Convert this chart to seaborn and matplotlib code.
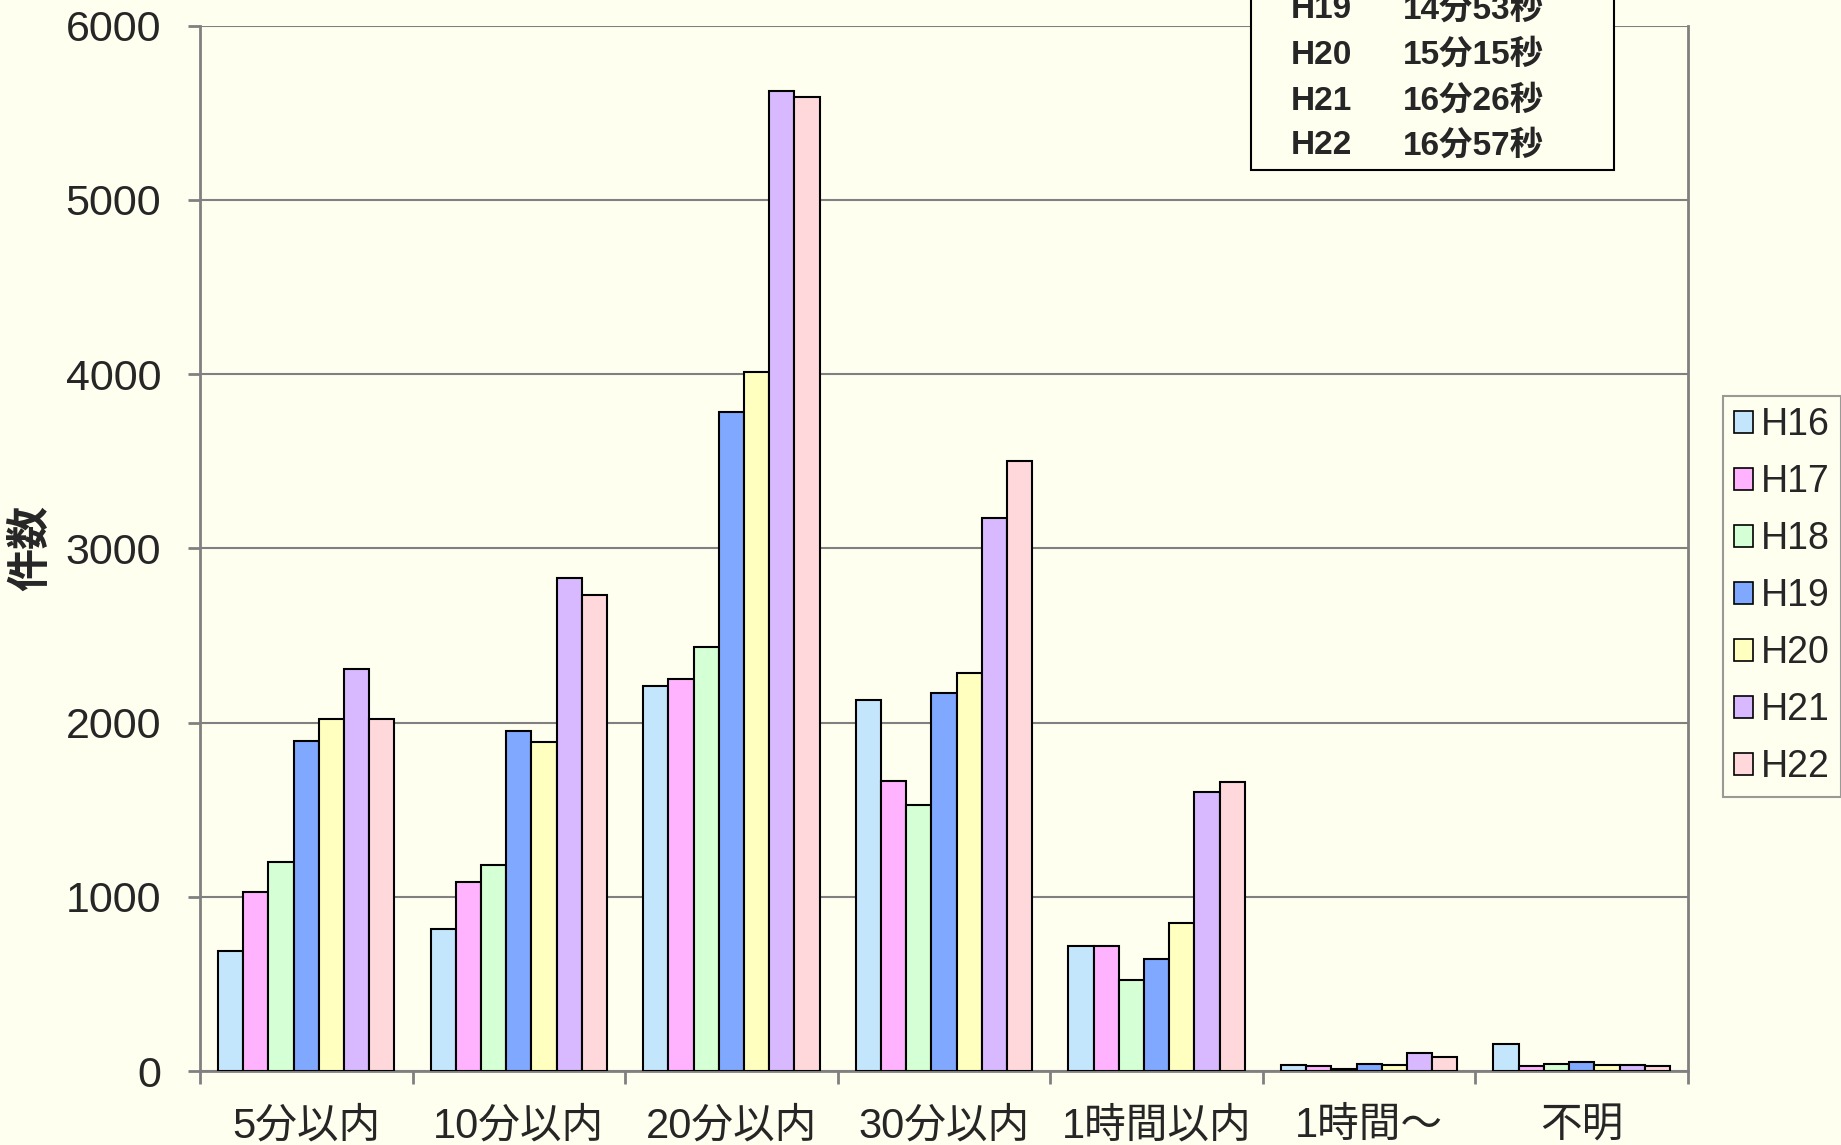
import pandas as pd
import matplotlib
matplotlib.use("Agg")
import matplotlib.pyplot as plt
import matplotlib.patches as mpatches
import seaborn as sns

# categories and series values
categories = ["5分以内", "10分以内", "20分以内", "30分以内", "1時間以内", "1時間〜", "不明"]
years = ["H16", "H17", "H18", "H19", "H20", "H21", "H22"]
h16 = [690, 815, 2210, 2130, 715, 36, 155]
h17 = [1025, 1085, 2250, 1665, 720, 29, 27]
h18 = [1200, 1185, 2435, 1525, 525, 13, 38]
h19 = [1895, 1950, 3785, 2170, 645, 40, 54]
h20 = [2020, 1890, 4015, 2285, 850, 36, 33]
h21 = [2305, 2830, 5625, 3175, 1600, 105, 33]
h22 = [2020, 2730, 5590, 3500, 1660, 82, 29]
colors = ["#C4E6FC", "#FFB3FF", "#D5FFD5", "#80A8FF", "#FFFFC0", "#D8B8FF", "#FFD8DC"]

# average times shown in the box (top of it is cut off in the original)
box_years = ["H19", "H20", "H21", "H22"]
box_times = ["14分53秒", "15分15秒", "16分26秒", "16分57秒"]

series = [h16, h17, h18, h19, h20, h21, h22]
rows = []
for yr, vals in zip(years, series):
    for cat, v in zip(categories, vals):
        rows.append({"cat": cat, "year": yr, "count": v})
df = pd.DataFrame(rows)

bg = "#FFFFF0"
sns.set_style("white")
plt.rcParams["font.family"] = ["Liberation Sans", "Noto Sans CJK JP", "DejaVu Sans"]

fig = plt.figure(figsize=(18.41, 11.45), dpi=100, facecolor=bg)
ax = fig.add_axes([0.1086, 0.0646, 0.9169 - 0.1086, 0.9775 - 0.0646])
ax.set_facecolor(bg)

sns.barplot(data=df, x="cat", y="count", hue="year", order=categories,
            hue_order=years, palette=colors, saturation=1, width=0.83,
            edgecolor="black", linewidth=1.5, ax=ax, zorder=3)

ax.set_ylim(0, 6000)
ax.set_xlim(-0.5, len(categories) - 0.5)
ax.set_yticks(range(0, 6001, 1000))
ax.yaxis.grid(True, color="#808080", linewidth=1.5, zorder=0)
ax.set_axisbelow(True)
for s in ["left", "bottom", "right"]:
    ax.spines[s].set_color("#808080")
    ax.spines[s].set_linewidth(2)
ax.spines["top"].set_visible(False)

ax.tick_params(axis="y", which="major", left=True, length=9, width=2,
               color="#808080", pad=19, labelsize=31)
ax.set_xticks([i + 0.5 for i in range(-1, len(categories))], minor=True)
ax.tick_params(axis="x", which="minor", bottom=True, length=9, width=2,
               color="#808080")
ax.tick_params(axis="x", which="major", bottom=False, pad=22, labelsize=30)

ax.set_xlabel("")
ax.set_ylabel("件数", fontsize=31, fontweight="bold")
ax.yaxis.set_label_coords(-0.099, 0.5)

leg = ax.legend(loc="upper left", bbox_to_anchor=(0.936, 0.654),
                bbox_transform=fig.transFigure, fontsize=27, frameon=True,
                fancybox=False, handlelength=0.5, handleheight=0.5,
                handletextpad=0.2, labelspacing=0.56, borderpad=0.3,
                borderaxespad=0)
leg.get_frame().set_facecolor(bg)
leg.get_frame().set_edgecolor("#808080")
leg.get_frame().set_linewidth(1.5)
for h in leg.legend_handles:
    h.set_edgecolor("black")
    h.set_linewidth(1.2)

# text box at the top right (partly off canvas)
W, H = 1841, 1145
box = mpatches.Rectangle((1251 / W, 1 - 170 / H), (1614 - 1251) / W, 200 / H,
                         transform=fig.transFigure, facecolor=bg,
                         edgecolor="black", linewidth=1.5, zorder=5)
fig.add_artist(box)
line_y = [10, 55, 101, 146]
for yr, tm, y in zip(box_years, box_times, line_y):
    fig.text(1291 / W, 1 - y / H, yr, fontsize=24, fontweight="bold",
             va="center", ha="left", zorder=6)
    fig.text(1403 / W, 1 - y / H, tm, fontsize=24, fontweight="bold",
             va="center", ha="left", zorder=6)

plt.savefig("out.png", dpi=100, facecolor=bg)
